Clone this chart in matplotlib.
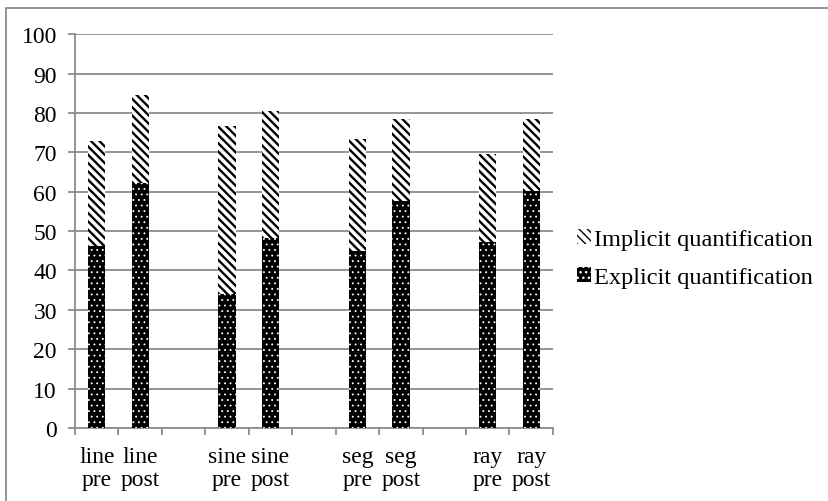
import numpy as np
import matplotlib
matplotlib.use("Agg")
import matplotlib.pyplot as plt
from matplotlib.patches import Patch, Rectangle

plt.rcParams['font.family'] = ['Liberation Serif', 'DejaVu Serif']

groups = ["line", "sine", "seg", "ray"]
stages = ["pre", "post"]
explicit = [46.3, 62.3, 34.0, 48.2, 45.0, 57.6, 47.2, 60.3]
implicit = [26.6, 22.2, 42.7, 32.3, 28.3, 20.9, 22.3, 18.2]

grey = "#8c8c8c"
stripes = "\\\\\\\\"
dots = "..."

# two bars per group, then an empty slot between groups
pos = [g * 3 + s for g in range(len(groups)) for s in range(len(stages))]
labels = [g + "\n" + s for g in groups for s in stages]

fig = plt.figure(figsize=(8.29, 5.02), dpi=100)
fig.patches.append(Rectangle((6 / 829, -0.05), 1.0, 1.05 - 9 / 502,
                             transform=fig.transFigure, fill=False,
                             edgecolor=grey, linewidth=1.3))
ax = fig.add_axes([0.0905, 0.1454, 0.5765, 0.7846])

with plt.rc_context({"hatch.linewidth": 0.6}):
    ax.bar(pos, explicit, width=0.4, color="black", edgecolor="white",
           hatch=dots, linewidth=0, zorder=3)
    dot_patch = Patch(facecolor="black", edgecolor="white", hatch=dots, linewidth=0)
with plt.rc_context({"hatch.linewidth": 1.7}):
    ax.bar(pos, implicit, width=0.4, bottom=explicit, color="white",
           edgecolor="black", hatch=stripes, linewidth=0, zorder=3)
    stripe_patch = Patch(facecolor="white", edgecolor="black", hatch=stripes, linewidth=0)

ax.set_xlim(-0.5, 10.5)
ax.set_ylim(0, 100)
ax.set_yticks(range(0, 101, 10))
ax.yaxis.grid(True, color=grey, linewidth=1.3, zorder=0)
ax.set_xticks(pos)
ax.set_xticklabels(labels, fontsize=17, linespacing=1.15)
ax.set_xticks(np.arange(-0.5, 11, 1), minor=True)
ax.tick_params(axis="x", which="major", length=0, pad=13)
ax.tick_params(axis="x", which="minor", length=5, color=grey, width=1.3)
ax.tick_params(axis="y", length=5, color=grey, width=1.3, labelsize=17, pad=8)

for side in ["top", "right"]:
    ax.spines[side].set_visible(False)
for side in ["left", "bottom"]:
    ax.spines[side].set_color(grey)
    ax.spines[side].set_linewidth(1.3)

ax.legend([stripe_patch, dot_patch],
          ["Implicit quantification", "Explicit quantification"],
          loc="center left", bbox_to_anchor=(1.03, 0.43), frameon=False,
          fontsize=17.6, handlelength=0.55, handleheight=0.55, handletextpad=0.15,
          labelspacing=0.7, borderaxespad=0)

fig.savefig("out.png", dpi=100)
